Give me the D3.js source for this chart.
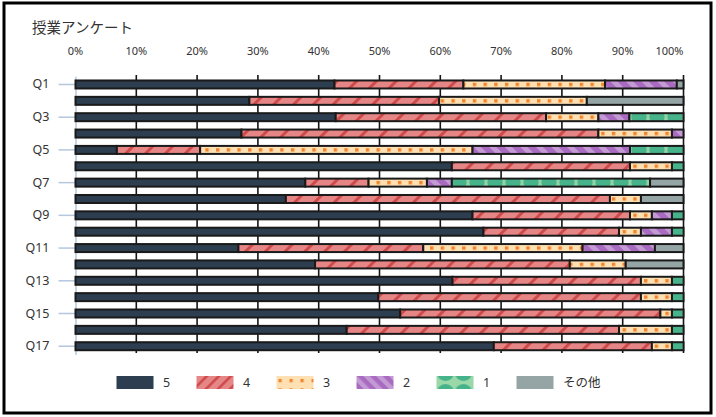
<!DOCTYPE html>
<html>
<head>
<meta charset="utf-8">
<script src="https://cdn.jsdelivr.net/npm/d3@7"></script>
<style>
  body { margin: 0; background: #fff; }
  svg text { font-family: "Noto Sans", "Noto Sans CJK JP", sans-serif; fill: #333; }
</style>
</head>
<body>
<div id="chart"></div>
<script>
// survey results, percent of answers per question
var categories = ['Q1', 'Q2', 'Q3', 'Q4', 'Q5', 'Q6', 'Q7', 'Q8', 'Q9',
  'Q10', 'Q11', 'Q12', 'Q13', 'Q14', 'Q15', 'Q16', 'Q17']
var seriesNames = ['5', '4', '3', '2', '1', 'その他']
var s5 = [42.6, 28.6, 42.8, 27.3, 6.8, 61.9, 37.8, 34.6, 65.3, 67.1, 26.8, 39.4, 62.0, 49.8, 53.4, 44.6, 68.8]
var s4 = [21.2, 31.2, 34.6, 58.7, 13.7, 29.3, 10.4, 53.3, 25.9, 22.3, 30.4, 41.9, 31.0, 43.2, 42.8, 44.8, 26.0]
var s3 = [23.3, 24.3, 8.6, 12.1, 44.8, 6.9, 9.6, 5.1, 3.6, 3.6, 26.2, 9.2, 5.1, 5.1, 1.9, 8.7, 3.3]
var s2 = [11.8, 0, 5.1, 1.9, 25.9, 0, 4.1, 0, 3.3, 5.1, 11.9, 0, 0, 0, 0, 0, 0]
var s1 = [0, 0, 8.9, 0, 8.8, 1.9, 32.6, 0, 1.9, 1.9, 0, 0, 1.9, 1.9, 1.9, 1.9, 1.9]
var sOther = [1.1, 15.9, 0, 0, 0, 0, 5.5, 7.0, 0, 0, 4.7, 9.5, 0, 0, 0, 0, 0]
var pctTicks = [0, 10, 20, 30, 40, 50, 60, 70, 80, 90, 100]

var W = 716, H = 417
var svg = d3.select('#chart').append('svg')
  .attr('width', W)
  .attr('height', H)
var defs = svg.append('defs')

var x = d3.scaleLinear().domain([0, 100]).range([75.5, 683.5])
var y = d3.scaleBand().domain(categories)
  .range([76.3, 354.4])
  .paddingInner(0.5)
  .paddingOuter(0.25)

var barH = 8
var firstMid = y(categories[0]) + y.bandwidth() / 2

// --- patterns ---
function stripes(id, base, line, period, width, angle) {
  var p = defs.append('pattern')
    .attr('id', id)
    .attr('patternUnits', 'userSpaceOnUse')
    .attr('width', period)
    .attr('height', period)
    .attr('patternTransform', 'rotate(' + angle + ')')
  p.append('rect').attr('width', period).attr('height', period).attr('fill', base)
  p.append('rect').attr('x', 0).attr('width', width).attr('height', period).attr('fill', line)
}

function squares(id, base, dot, w, h, y0, size) {
  var p = defs.append('pattern')
    .attr('id', id)
    .attr('patternUnits', 'userSpaceOnUse')
    .attr('x', 2)
    .attr('y', y0)
    .attr('width', w)
    .attr('height', h)
  p.append('rect').attr('width', w).attr('height', h).attr('fill', base)
  p.append('rect').attr('x', 0).attr('y', 0).attr('width', size).attr('height', size).attr('fill', dot)
}

// circles centred on the tile's top and bottom edge, or in its middle
function circles(id, base, dot, w, h, y0, r, centred) {
  var p = defs.append('pattern')
    .attr('id', id)
    .attr('patternUnits', 'userSpaceOnUse')
    .attr('x', 0)
    .attr('y', y0)
    .attr('width', w)
    .attr('height', h)
  p.append('rect').attr('width', w).attr('height', h).attr('fill', base)
  var cys = centred ? [h / 2] : [0, h]
  cys.forEach(function(cy) {
    p.append('circle').attr('cx', w / 2).attr('cy', cy).attr('r', r).attr('fill', dot)
  })
}

// bar versions
stripes('p4', '#e58585', '#cf4b4b', 14, 3, 45)
squares('p3', '#fee0b3', '#f0852e', 10.7, y.step(), firstMid - 1.7, 3.4)
stripes('p2', '#a96bc0', '#c49ad5', 11, 5, -45)
circles('p1', '#93d4a7', '#46b38b', 18, y.step(), firstMid - y.step() / 2, 7.6, true)

// legend versions
var legY = 376, legH = 13
stripes('l4', '#e58787', '#d04b4b', 8.5, 2.6, 45)
squares('l3', '#fee0b3', '#f0852e', 11, 9.3, legY + 3, 3.2)
stripes('l2', '#a96bc0', '#c49ad5', 9, 4.5, -45)
circles('l1', '#9ad7a9', '#46b38b', 18, legH + 8, legY - 4, 9, false)

var barFill = ['#2c3e50', 'url(#p4)', 'url(#p3)', 'url(#p2)', 'url(#p1)', '#95a5a6']
var legFill = ['#2c3e50', 'url(#l4)', 'url(#l3)', 'url(#l2)', 'url(#l1)', '#95a5a6']

// --- title ---
svg.append('text')
  .attr('x', 32)
  .attr('y', 33)
  .style('font-size', '14.5px')
  .style('font-family', '"Noto Sans CJK JP", sans-serif')
  .text('授業アンケート')

// --- grid lines (also act as the top ticks) ---
svg.selectAll('line.grid')
  .data(pctTicks.slice(1))
  .enter().append('line')
  .attr('class', 'grid')
  .attr('x1', function(d) { return x(d) })
  .attr('x2', function(d) { return x(d) })
  .attr('y1', 75)
  .attr('y2', 353)
  .attr('stroke', '#151515')
  .attr('stroke-width', 1.6)

svg.selectAll('text.pct')
  .data(pctTicks)
  .enter().append('text')
  .attr('class', 'pct')
  .attr('x', function(d) { return x(d) })
  .attr('y', 55)
  .attr('text-anchor', function(d) { return d === 100 ? 'end' : 'middle' })
  .style('font-size', '11px')
  .text(function(d) { return d + '%' })

// --- left axis ---
var yAxis = d3.axisLeft(y)
  .tickValues(categories.filter(function(d, i) { return i % 2 === 0 }))
  .tickSize(17)
  .tickSizeOuter(0)
  .tickPadding(9)

var gy = svg.append('g')
  .attr('transform', 'translate(' + x(0) + ',0)')
  .call(yAxis)
gy.select('.domain').attr('stroke', '#b5c7dd').attr('stroke-width', 1.5)
gy.selectAll('.tick line').attr('stroke', '#b5c7dd').attr('stroke-width', 1.5)
gy.selectAll('.tick text')
  .style('font-size', '12.5px')
  .style('font-family', '"Noto Sans", sans-serif')
  .attr('fill', '#333')

// --- stacked bars ---
var table = categories.map(function(c, i) {
  return { cat: c, '5': s5[i], '4': s4[i], '3': s3[i], '2': s2[i], '1': s1[i], 'その他': sOther[i] }
})
var stacked = d3.stack().keys(seriesNames)(table)

svg.selectAll('g.series')
  .data(stacked)
  .enter().append('g')
  .attr('class', 'series')
  .attr('fill', function(d, i) { return barFill[i] })
  .selectAll('rect')
  .data(function(d) { return d.filter(function(s) { return s[1] - s[0] > 0 }) })
  .enter().append('rect')
  .attr('x', function(d) { return x(d[0]) })
  .attr('width', function(d) { return x(d[1]) - x(d[0]) })
  .attr('y', function(d) { return y(d.data.cat) + y.bandwidth() / 2 - barH / 2 })
  .attr('height', barH)
  .attr('stroke', '#1a1a1a')
  .attr('stroke-width', 2)

// --- legend ---
var leg = svg.selectAll('g.legend')
  .data(seriesNames)
  .enter().append('g')
  .attr('class', 'legend')
  .attr('transform', function(d, i) { return 'translate(' + (116.5 + i * 80) + ',0)' })

leg.append('rect')
  .attr('x', 0)
  .attr('y', legY)
  .attr('width', 37)
  .attr('height', legH)
  .attr('fill', function(d, i) { return legFill[i] })

leg.append('text')
  .attr('x', 46.5)
  .attr('y', legY + legH / 2)
  .attr('dy', '0.35em')
  .style('font-size', '12.5px')
  .text(function(d) { return d })

// --- frame ---
svg.append('rect')
  .attr('x', 4)
  .attr('y', 3)
  .attr('width', 707)
  .attr('height', 410)
  .attr('fill', 'none')
  .attr('stroke', '#000')
  .attr('stroke-width', 3)
</script>
</body>
</html>
